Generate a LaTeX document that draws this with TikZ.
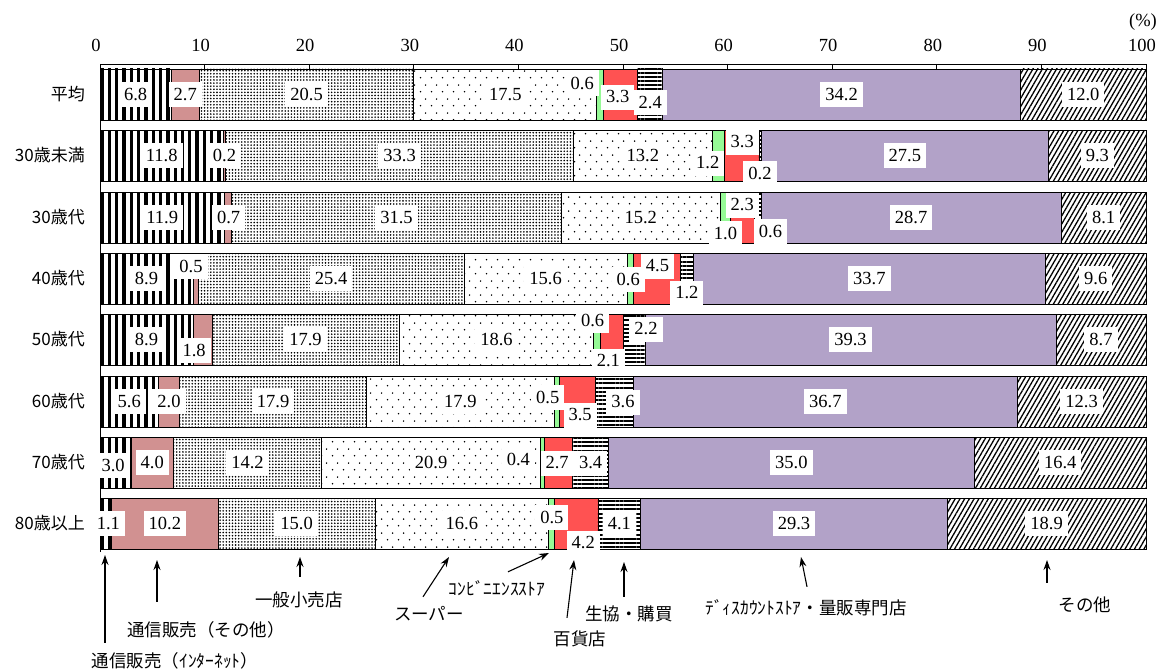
\documentclass[tikz,border=0pt]{standalone}
\usepackage{fontspec}
\setmainfont{Liberation Serif}
\newfontfamily\jpfont{Noto Sans CJK JP}
\usetikzlibrary{patterns.meta,arrows.meta}

\definecolor{mailpink}{RGB}{209,145,145}
\definecolor{convgreen}{RGB}{150,250,150}
\definecolor{deptred}{RGB}{255,82,82}
\definecolor{disclav}{RGB}{178,162,200}

\tikzdeclarepattern{
  name=sparsedots,
  type=uncolored,
  bounding box={(0pt,0pt) and (11pt,14pt)},
  tile size={(11pt,14pt)},
  code={
    \fill (2.75pt,3.5pt) circle (0.9pt);
    \fill (8.25pt,10.5pt) circle (0.9pt);
  }
}

\tikzset{
  segline/.style={draw=black,line width=0.8pt},
  inetbar/.style={segline,pattern={Lines[angle=90,distance=7.3pt,line width=3.3pt]}},
  mailbar/.style={segline,fill=mailpink},
  shopbar/.style={segline,pattern={Dots[distance=3.1pt,radius=0.9pt]}},
  superbar/.style={segline,pattern=sparsedots},
  convbar/.style={segline,fill=convgreen},
  deptbar/.style={segline,fill=deptred},
  coopbar/.style={segline,pattern={Lines[angle=0,distance=4.2pt,line width=1.9pt]}},
  discbar/.style={segline,fill=disclav},
  otherbar/.style={segline,pattern={Lines[angle=60,distance=4.1pt,line width=1.3pt]}},
  val/.style={fill=white,inner xsep=5pt,inner ysep=0pt,minimum height=25pt,font=\fontsize{18.5}{18.5}\selectfont},
  rowlab/.style={anchor=east,inner sep=0pt,font=\jpfont\fontsize{17}{17}\selectfont},
  catlab/.style={inner sep=0pt,text height=15pt,text depth=2pt,font=\jpfont\fontsize{17.5}{17.5}\selectfont},
  ticklab/.style={font=\fontsize{18.5}{18.5}\selectfont},
  arr/.style={-{Stealth[length=10pt,width=7pt]},line width=1.1pt}
}

\begin{document}
\begin{tikzpicture}[x=1pt,y=-1pt]
\useasboundingbox (0,0) rectangle (1162,669);

\begin{scope}[xshift=100pt,x=10.46pt]
  % bars
  \foreach \a/\b/\s in {0/6.8/inetbar,6.8/9.5/mailbar,9.5/30.0/shopbar,30.0/47.5/superbar,47.5/48.1/convbar,48.1/51.4/deptbar,51.4/53.8/coopbar,53.8/88.0/discbar,88.0/100/otherbar}
    \path[\s] (\a,69) rectangle (\b,120);
  \foreach \a/\b/\s in {0/11.8/inetbar,11.8/12.0/mailbar,12.0/45.3/shopbar,45.3/58.5/superbar,58.5/59.7/convbar,59.7/63.0/deptbar,63.0/63.2/coopbar,63.2/90.7/discbar,90.7/100/otherbar}
    \path[\s] (\a,130) rectangle (\b,181);
  \foreach \a/\b/\s in {0/11.9/inetbar,11.9/12.6/mailbar,12.6/44.1/shopbar,44.1/59.3/superbar,59.3/60.3/convbar,60.3/62.6/deptbar,62.6/63.2/coopbar,63.2/91.9/discbar,91.9/100/otherbar}
    \path[\s] (\a,192) rectangle (\b,243);
  \foreach \a/\b/\s in {0/8.9/inetbar,8.9/9.4/mailbar,9.4/34.8/shopbar,34.8/50.4/superbar,50.4/51.0/convbar,51.0/55.5/deptbar,55.5/56.7/coopbar,56.7/90.4/discbar,90.4/100/otherbar}
    \path[\s] (\a,253) rectangle (\b,304);
  \foreach \a/\b/\s in {0/8.9/inetbar,8.9/10.7/mailbar,10.7/28.6/shopbar,28.6/47.2/superbar,47.2/47.8/convbar,47.8/50.0/deptbar,50.0/52.1/coopbar,52.1/91.4/discbar,91.4/100/otherbar}
    \path[\s] (\a,314) rectangle (\b,365);
  \foreach \a/\b/\s in {0/5.6/inetbar,5.6/7.6/mailbar,7.6/25.5/shopbar,25.5/43.4/superbar,43.4/43.9/convbar,43.9/47.4/deptbar,47.4/51.0/coopbar,51.0/87.7/discbar,87.7/100/otherbar}
    \path[\s] (\a,376) rectangle (\b,427);
  \foreach \a/\b/\s in {0/3.0/inetbar,3.0/7.0/mailbar,7.0/21.2/shopbar,21.2/42.1/superbar,42.1/42.5/convbar,42.5/45.2/deptbar,45.2/48.6/coopbar,48.6/83.6/discbar,83.6/100/otherbar}
    \path[\s] (\a,437) rectangle (\b,488);
  \foreach \a/\b/\s in {0/1.1/inetbar,1.1/11.3/mailbar,11.3/26.3/shopbar,26.3/42.9/superbar,42.9/43.4/convbar,43.4/47.6/deptbar,47.6/51.7/coopbar,51.7/81.0/discbar,81.0/100/otherbar}
    \path[\s] (\a,498) rectangle (\b,549);

  % axis
  \draw[line width=0.9pt] (0,552) -- (0,64) -- (100,64);
  \foreach \t in {10,20,...,100}
    \draw[line width=0.8pt] (\t,64) -- (\t,69);
  \foreach \t in {0,10,...,100}
    \node[ticklab,xshift=-4pt] (t\t) at (\t,45) {\t};

  % values
  \node[val] (avg1) at (3.4,94.5) {6.8};
  \node[val] (avg2) at (8.15,94.5) {2.7};
  \node[val] (avg3) at (19.75,94.5) {20.5};
  \node[val] (avg4) at (38.75,94.5) {17.5};
  \node[val] (avg5) at (46.1,83) {0.6};
  \node[val] (avg6) at (49.5,97) {3.3};
  \node[val] (avg7) at (52.6,102.5) {2.4};
  \node[val] (avg8) at (70.9,94.5) {34.2};
  \node[val] (avg9) at (94.0,94.5) {12.0};

  \node[val] (u1) at (5.9,155.5) {11.8};
  \node[val] (u2) at (11.9,155.5) {0.2};
  \node[val] (u3) at (28.65,155.5) {33.3};
  \node[val] (u4) at (51.9,155.5) {13.2};
  \node[val] (u5) at (58.1,163) {1.2};
  \node[val] (u6) at (61.4,142) {3.3};
  \node[val] (u7) at (63.1,173) {0.2};
  \node[val] (u8) at (76.95,155.5) {27.5};
  \node[val] (u9) at (95.35,155.5) {9.3};

  \node[val] (s30a) at (5.95,217.5) {11.9};
  \node[val] (s30b) at (12.3,217.5) {0.7};
  \node[val] (s30c) at (28.35,217.5) {31.5};
  \node[val] (s30d) at (51.7,217.5) {15.2};
  \node[val] (s30e) at (59.8,233) {1.0};
  \node[val] (s30f) at (61.4,205) {2.3};
  \node[val] (s30g) at (64.1,231) {0.6};
  \node[val] (s30h) at (77.55,217.5) {28.7};
  \node[val] (s30i) at (95.95,217.5) {8.1};

  \node[val] (s40a) at (4.45,278.5) {8.9};
  \node[val] (s40b) at (8.7,266) {0.5};
  \node[val] (s40c) at (22.1,278.5) {25.4};
  \node[val] (s40d) at (42.6,278.5) {15.6};
  \node[val] (s40e) at (50.5,279) {0.6};
  \node[val] (s40f) at (53.3,266) {4.5};
  \node[val] (s40g) at (56.1,293) {1.2};
  \node[val] (s40h) at (73.55,278.5) {33.7};
  \node[val] (s40i) at (95.2,278.5) {9.6};

  \node[val] (s50a) at (4.45,339.5) {8.9};
  \node[val] (s50b) at (9.0,350) {1.8};
  \node[val] (s50c) at (19.65,339.5) {17.9};
  \node[val] (s50d) at (37.9,339.5) {18.6};
  \node[val] (s50e) at (47.1,320) {0.6};
  \node[val] (s50f) at (52.2,329) {2.2};
  \node[val] (s50g) at (48.6,361) {2.1};
  \node[val] (s50h) at (71.75,339.5) {39.3};
  \node[val] (s50i) at (95.7,339.5) {8.7};

  \node[val] (s60a) at (2.8,401.5) {5.6};
  \node[val] (s60b) at (6.6,401.5) {2.0};
  \node[val] (s60c) at (16.55,401.5) {17.9};
  \node[val] (s60d) at (34.45,401.5) {17.9};
  \node[val] (s60e) at (42.8,397) {0.5};
  \node[val] (s60f) at (45.9,415) {3.5};
  \node[val] (s60g) at (50.0,402) {3.6};
  \node[val] (s60h) at (69.35,401.5) {36.7};
  \node[val] (s60i) at (93.85,401.5) {12.3};

  \node[val] (s70a) at (1.25,465) {3.0};
  \node[val] (s70b) at (5.0,462.5) {4.0};
  \node[val] (s70c) at (14.1,462.5) {14.2};
  \node[val] (s70d) at (31.65,462.5) {20.9};
  \node[val] (s70e) at (40.0,459) {0.4};
  \node[val] (s70f) at (43.7,463) {2.7};
  \node[val] (s70g) at (46.9,463) {3.4};
  \node[val] (s70h) at (66.1,462.5) {35.0};
  \node[val] (s70i) at (91.8,462.5) {16.4};

  \node[val] (s80a) at (0.8,523.5) {1.1};
  \node[val] (s80b) at (6.2,523.5) {10.2};
  \node[val] (s80c) at (18.8,523.5) {15.0};
  \node[val] (s80d) at (34.6,523.5) {16.6};
  \node[val] (s80e) at (43.2,517) {0.5};
  \node[val] (s80f) at (46.2,543) {4.2};
  \node[val] (s80g) at (49.65,524) {4.1};
  \node[val] (s80h) at (66.35,523.5) {29.3};
  \node[val] (s80i) at (90.5,523.5) {18.9};
\end{scope}

\node[ticklab] (pct) at (1143,22) {(\%)};

% rows
\node[rowlab] (ravg) at (85,94.5) {平均};
\node[rowlab] (ru30) at (85,155.5) {30歳未満};
\node[rowlab] (r30) at (85,217.5) {30歳代};
\node[rowlab] (r40) at (85,278.5) {40歳代};
\node[rowlab] (r50) at (85,339.5) {50歳代};
\node[rowlab] (r60) at (85,401.5) {60歳代};
\node[rowlab] (r70) at (85,462.5) {70歳代};
\node[rowlab] (r80) at (85,523.5) {80歳以上};

% categories
\node[catlab] (net) at (175,661) {通信販売（ｲﾝﾀｰﾈｯﾄ）};
\node[catlab] (mail) at (206,630) {通信販売（その他）};
\node[catlab] (shop) at (299,600) {一般小売店};
\node[catlab] (super) at (429,614) {スーパー};
\node[catlab] (conv) at (497,589) {ｺﾝﾋﾞﾆｴﾝｽｽﾄｱ};
\node[catlab] (dept) at (580,639) {百貨店};
\node[catlab] (coop) at (629,614) {生協・購買};
\node[catlab] (disc) at (806,608) {ﾃﾞｨｽｶｳﾝﾄｽﾄｱ・量販専門店};
\node[catlab] (other) at (1085,605) {その他};

\coordinate (pnet) at (105,555);
\coordinate (pmail) at (157,560);
\coordinate (pshop) at (300,557);
\coordinate (psuper) at (449,557);
\coordinate (pconv) at (549,553);
\coordinate (pdept) at (574,560);
\coordinate (pcoop) at (624,562);
\coordinate (pdisc) at (801,557);
\coordinate (pother) at (1047,560);

\draw[arr] ([xshift=-70pt,yshift=9.5pt]net.north) -- (pnet);
\draw[arr] ([xshift=-49pt,yshift=19.5pt]mail.north) -- (pmail);
\draw[arr] ([xshift=1pt,yshift=14.5pt]shop.north) -- (pshop);
\draw[arr] ([xshift=-6pt,yshift=8.5pt]super.north) -- (psuper);
\draw[arr] ([xshift=11pt,yshift=8.5pt]conv.north) -- (pconv);
\draw[arr] ([xshift=-13pt,yshift=12.5pt]dept.north) -- (pdept);
\draw[arr] ([xshift=-5pt,yshift=8.5pt]coop.north) -- (pcoop);
\draw[arr] ([xshift=1pt,yshift=12.5pt]disc.north) -- (pdisc);
\draw[arr] ([xshift=-38pt,yshift=13.5pt]other.north) -- (pother);
\end{tikzpicture}
\end{document}
